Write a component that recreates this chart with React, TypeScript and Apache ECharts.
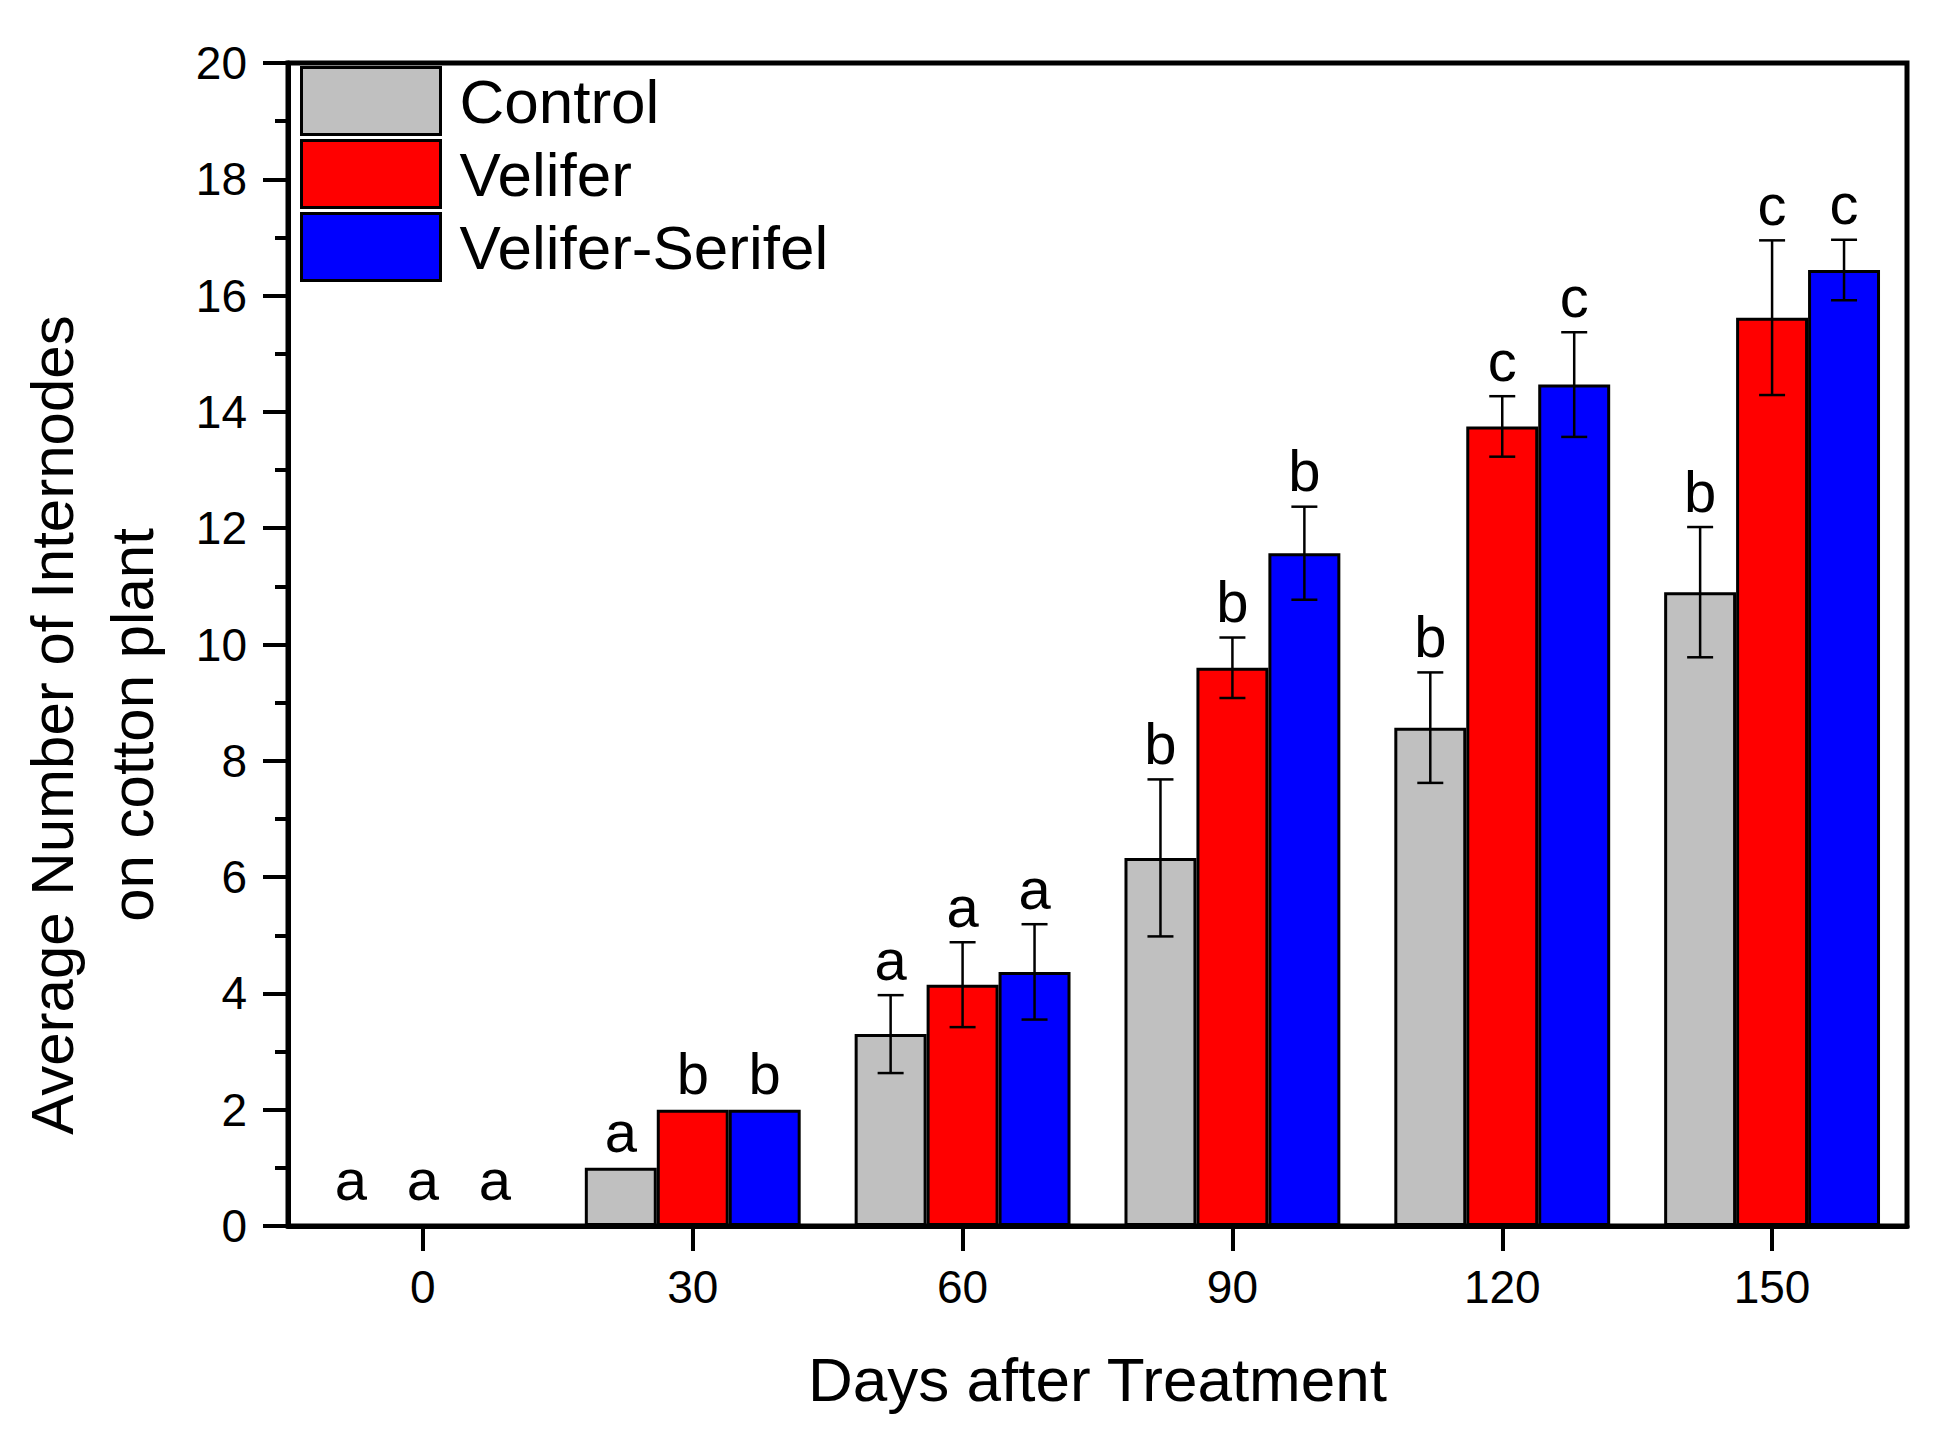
import React, { useEffect, useRef } from "react";
import * as echarts from "echarts";

const categories = ["0", "30", "60", "90", "120", "150"];
const seriesNames = ["Control", "Velifer", "Velifer-Serifel"];
const seriesColors = ["#c0c0c0", "#ff0000", "#0000ff"];

const controlMean = [0, 1, 3.3, 6.33, 8.57, 10.9];
const veliferMean = [0, 2, 4.15, 9.6, 13.75, 15.62];
const serifelMean = [0, 2, 4.37, 11.57, 14.47, 16.44];

const controlErr = [0, 0, 0.67, 1.35, 0.95, 1.12];
const veliferErr = [0, 0, 0.73, 0.52, 0.52, 1.33];
const serifelErr = [0, 0, 0.82, 0.8, 0.9, 0.52];

const controlLetters = ["a", "a", "a", "b", "b", "b"];
const veliferLetters = ["a", "b", "a", "b", "c", "c"];
const serifelLetters = ["a", "b", "a", "b", "c", "c"];

const yTicks = { min: 0, max: 20, interval: 2 };

const FONT = '"Liberation Sans", Arial, Helvetica, sans-serif';

export default function App() {
  const ref = useRef<HTMLDivElement>(null);
  useEffect(() => {
    if (!ref.current) return;
    const chart = echarts.init(ref.current, undefined, { renderer: "svg" });
    const means = [controlMean, veliferMean, serifelMean];
    const errs = [controlErr, veliferErr, serifelErr];
    const letters = [controlLetters, veliferLetters, serifelLetters];

    const barSeries = means.map((m, s) => ({
      type: "bar",
      name: seriesNames[s],
      data: m,
      barGap: "0%",
      barCategoryGap: "20%",
      itemStyle: { color: seriesColors[s], borderColor: "#000", borderWidth: 3 },
      z: 2,
    }));

    const errSeries = means.map((m, s) => ({
      type: "custom",
      name: "err-" + seriesNames[s],
      z: 5,
      clip: false,
      data: categories.map((_, i) => [i, m[i], errs[s][i]]),
      encode: { x: 0, y: 1 },
      renderItem: (params: any, api: any) => {
        const idx = api.value(0);
        const v = api.value(1);
        const e = api.value(2);
        const band = api.size([1, 0])[0];
        const bw = (band * 0.8) / 3;
        const off = (s - 1) * bw;
        const base = api.coord([idx, v]);
        const top = api.coord([idx, v + e]);
        const bot = api.coord([idx, v - e]);
        const x = base[0] + off;
        const cap = 13;
        const ls = { stroke: "#000", lineWidth: 2.5 };
        const children: any[] = [];
        if (e > 0) {
          children.push({ type: "line", shape: { x1: x, y1: top[1], x2: x, y2: bot[1] }, style: ls });
          children.push({ type: "line", shape: { x1: x - cap, y1: top[1], x2: x + cap, y2: top[1] }, style: ls });
          children.push({ type: "line", shape: { x1: x - cap, y1: bot[1], x2: x + cap, y2: bot[1] }, style: ls });
        }
        const gap = v === 0 ? 18 : 7;
        children.push({
          type: "text",
          x: x,
          y: (e > 0 ? top[1] : base[1]) - gap,
          style: {
            text: letters[s][params.dataIndex],
            fontSize: 58,
            fontFamily: FONT,
            fill: "#000",
            align: "center",
            verticalAlign: "bottom",
          },
        });
        return { type: "group", children };
      },
    }));

    chart.setOption({
      animation: false,
      backgroundColor: "#fff",
      grid: {
        left: 288,
        right: 53,
        top: 63,
        bottom: 205,
        show: true,
        borderColor: "#000",
        borderWidth: 5,
        backgroundColor: "transparent",
      },
      legend: {
        data: seriesNames,
        orient: "vertical",
        left: 295,
        top: 61,
        icon: "rect",
        itemWidth: 139,
        itemHeight: 67,
        itemGap: 3,
        itemStyle: { borderColor: "#000", borderWidth: 3 },
        selectedMode: false,
        textStyle: { fontSize: 62, lineHeight: 50, fontFamily: FONT, color: "#000", padding: [0, 0, 0, 14] },
      },
      xAxis: {
        type: "category",
        data: categories,
        name: "Days after Treatment",
        nameLocation: "middle",
        nameGap: 122,
        nameTextStyle: { fontSize: 62, fontFamily: FONT, color: "#000" },
        axisLine: { show: true, lineStyle: { color: "#000", width: 5 } },
        axisTick: { show: true, alignWithLabel: true, length: 25, lineStyle: { color: "#000", width: 4 } },
        axisLabel: { fontSize: 46, fontFamily: FONT, color: "#000", margin: 38 },
        splitLine: { show: false },
      },
      yAxis: {
        type: "value",
        min: yTicks.min,
        max: yTicks.max,
        interval: yTicks.interval,
        axisLine: { show: true, lineStyle: { color: "#000", width: 5 } },
        axisTick: { show: true, length: 25, lineStyle: { color: "#000", width: 4 } },
        minorTick: { show: true, splitNumber: 2, length: 13, lineStyle: { color: "#000", width: 4 } },
        axisLabel: { fontSize: 46, fontFamily: FONT, color: "#000", margin: 41 },
        splitLine: { show: false },
        minorSplitLine: { show: false },
      },
      graphic: [
        {
          type: "text",
          x: 92,
          y: 725,
          rotation: Math.PI / 2,
          style: {
            text: "Average Number of Internodes\non cotton plant",
            fontSize: 60,
            fontFamily: FONT,
            fill: "#000",
            align: "center",
            verticalAlign: "middle",
            lineHeight: 80,
          },
        },
      ],
      series: [...barSeries, ...errSeries],
    });
    return () => chart.dispose();
  }, []);
  return (
    <div
      ref={ref}
      style={{ position: "fixed", left: 0, top: 0, width: 1960, height: 1431, background: "#fff" }}
    />
  );
}
